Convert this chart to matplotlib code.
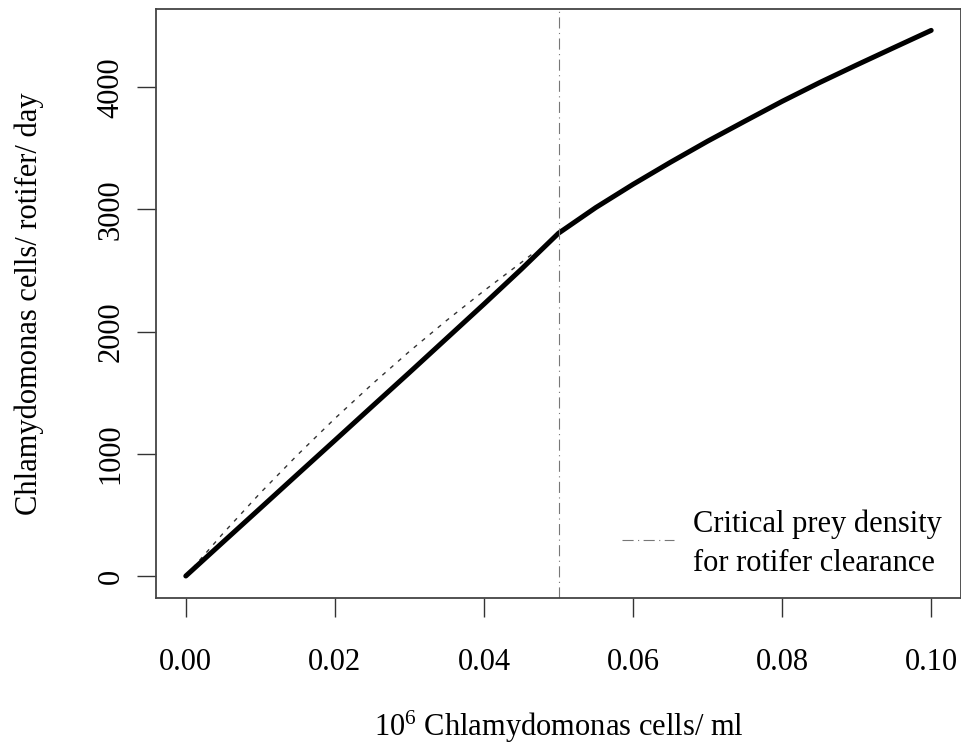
import matplotlib
matplotlib.use("Agg")
import matplotlib.pyplot as plt

plt.rcParams['font.family'] = ['Liberation Serif', 'DejaVu Serif']
plt.rcParams['mathtext.fontset'] = 'custom'
plt.rcParams['mathtext.rm'] = 'Liberation Serif'
plt.rcParams['mathtext.it'] = 'Liberation Serif:italic'

# Solid curve: ingestion rate
x_solid = [0.000, 0.005, 0.010, 0.015, 0.020, 0.025, 0.030, 0.035, 0.040, 0.045, 0.050,
           0.055, 0.060, 0.065, 0.070, 0.075, 0.080, 0.085, 0.090, 0.095, 0.100]
y_solid = [0, 278, 555, 833, 1110, 1388, 1665, 1945, 2225, 2510, 2805,
           3015, 3205, 3385, 3558, 3722, 3884, 4037, 4182, 4324, 4465]

# Dashed curve below critical density
x_dash = [0.000, 0.005, 0.010, 0.015, 0.020, 0.025, 0.030, 0.035, 0.040, 0.045, 0.047]
y_dash = [0, 349, 680, 992, 1289, 1570, 1838, 2092, 2334, 2565, 2660]

critical_density = 0.05

x_ticks = [0.00, 0.02, 0.04, 0.06, 0.08, 0.10]
x_ticklabels = ["0.00", "0.02", "0.04", "0.06", "0.08", "0.10"]
y_ticks = [0, 1000, 2000, 3000, 4000]
y_ticklabels = ["0", "1000", "2000", "3000", "4000"]

fig = plt.figure(figsize=(9.62, 7.47), dpi=100)
ax = fig.add_axes([156/962, 1-598/747, (961-156)/962, (598-9)/747])

ax.plot(x_dash, y_dash, color='#333333', lw=1.0, ls=(0, (3, 4.5)))
ax.plot(x_solid, y_solid, color='black', lw=3.6, solid_capstyle='round', solid_joinstyle='round')
ax.axvline(critical_density, color='#777777', lw=0.8, ls=(0, (10, 4, 1, 4)))

ax.set_xlim(-0.004, 0.104)
ax.set_ylim(-180, 4640)
ax.set_xticks(x_ticks)
ax.set_xticklabels(x_ticklabels)
ax.set_yticks(y_ticks)
ax.set_yticklabels(y_ticklabels, rotation=90, va='center')
ax.tick_params(axis='both', direction='out', length=14, width=1.0, color='#333333',
               labelsize=22, pad=22)
ax.tick_params(axis='y', pad=8)
for s in ax.spines.values():
    s.set_color('#444444')
    s.set_linewidth(1.3)

ax.set_xlabel(r"10$^{6}$ Chlamydomonas cells/ ml", fontsize=22, labelpad=23)
ax.set_ylabel("Chlamydomonas cells/ rotifer/ day", fontsize=22, labelpad=38)

# legend (no box)
ax.plot([0.0585, 0.0655], [295, 295], color='#777777', lw=0.8, ls=(0, (10, 4, 1, 4)))
ax.text(0.0681, 265, "Critical prey density\nfor rotifer clearance", fontsize=22,
        va='center', ha='left', linespacing=1.45)

fig.savefig("out.png", dpi=100)
